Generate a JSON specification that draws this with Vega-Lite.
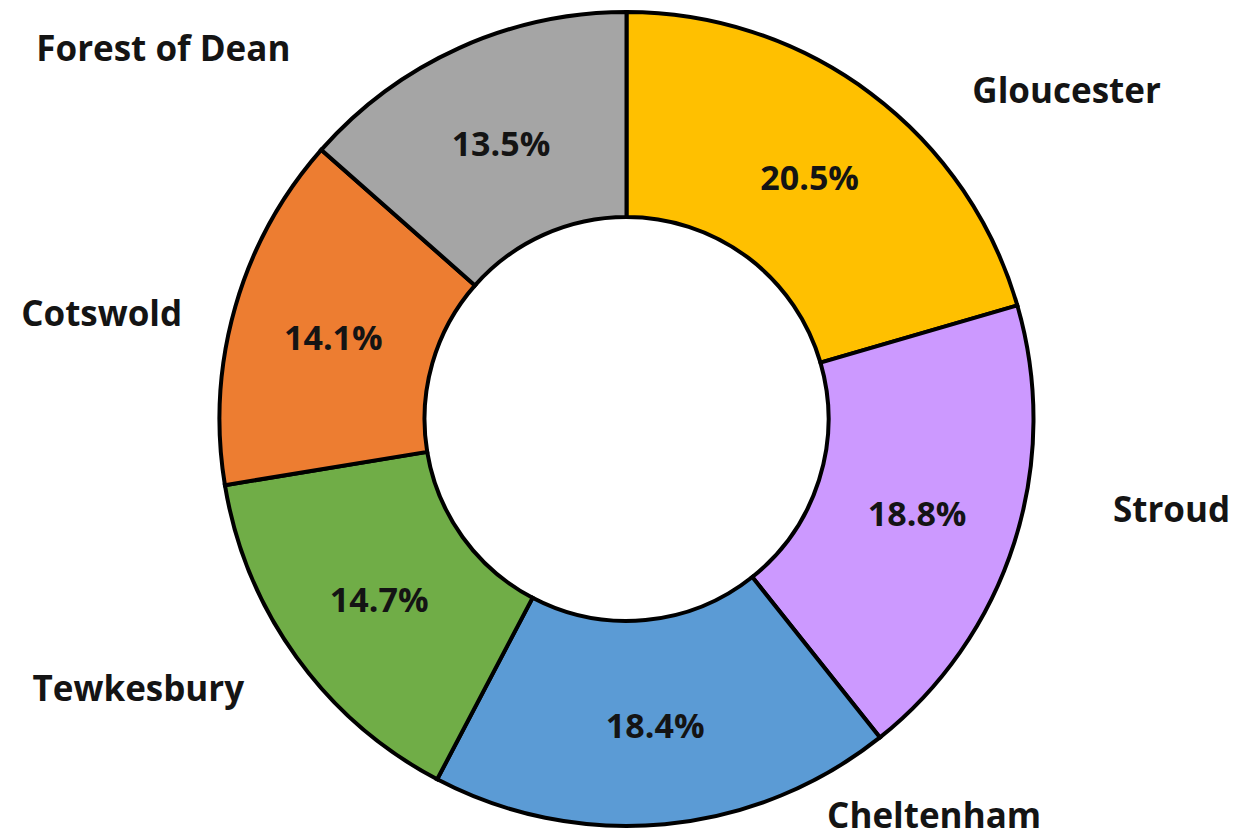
{
  "$schema": "https://vega.github.io/schema/vega-lite/v6.json",
  "width": 1253,
  "height": 838,
  "autosize": {"type": "fit", "contains": "padding"},
  "padding": 0,
  "background": "white",
  "view": {"stroke": null},
  "data": {
    "values": [
      {"region": "Gloucester", "share": 0.205},
      {"region": "Stroud", "share": 0.188},
      {"region": "Cheltenham", "share": 0.184},
      {"region": "Tewkesbury", "share": 0.147},
      {"region": "Cotswold", "share": 0.141},
      {"region": "Forest of Dean", "share": 0.135}
    ]
  },
  "encoding": {
    "theta": {"field": "share", "type": "quantitative", "stack": true},
    "order": {"field": "share", "sort": "descending"},
    "detail": {"field": "region", "type": "nominal"}
  },
  "layer": [
    {
      "mark": {"type": "arc", "innerRadius": 202, "outerRadius": 407, "stroke": "black", "strokeWidth": 4, "strokeJoin": "miter"},
      "encoding": {
        "color": {
          "field": "region",
          "type": "nominal",
          "scale": {
            "domain": ["Gloucester", "Stroud", "Cheltenham", "Tewkesbury", "Cotswold", "Forest of Dean"],
            "range": ["#FFC000", "#CC99FF", "#5B9BD5", "#70AD47", "#ED7D31", "#A5A5A5"]
          },
          "legend": null
        }
      }
    },
    {
      "mark": {"type": "text", "radius": 305, "font": "Open Sans", "fontWeight": "bold", "fontSize": 34, "fill": "#141414", "baseline": "middle", "align": "center", "dy": 5},
      "encoding": {"text": {"field": "share", "type": "quantitative", "format": ".1%"}}
    },
    {
      "mark": {
        "type": "text",
        "font": "Open Sans",
        "fontWeight": "bold",
        "fontSize": 35,
        "fill": "#141414",
        "baseline": "middle",
        "align": "center",
        "dy": 5,
        "radius": {"expr": "datum.region === 'Gloucester' ? 551 : datum.region === 'Stroud' ? 552 : datum.region === 'Cheltenham' ? 499 : datum.region === 'Tewkesbury' ? 556 : datum.region === 'Cotswold' ? 536 : 595"},
        "thetaOffset": {"expr": "datum.region === 'Gloucester' ? 0.281 : datum.region === 'Stroud' ? -0.149 : datum.region === 'Cheltenham' ? -0.570 : datum.region === 'Tewkesbury' ? 0.126 : datum.region === 'Cotswold' ? -0.075 : -0.468"}
      },
      "encoding": {"text": {"field": "region", "type": "nominal"}}
    }
  ]
}
